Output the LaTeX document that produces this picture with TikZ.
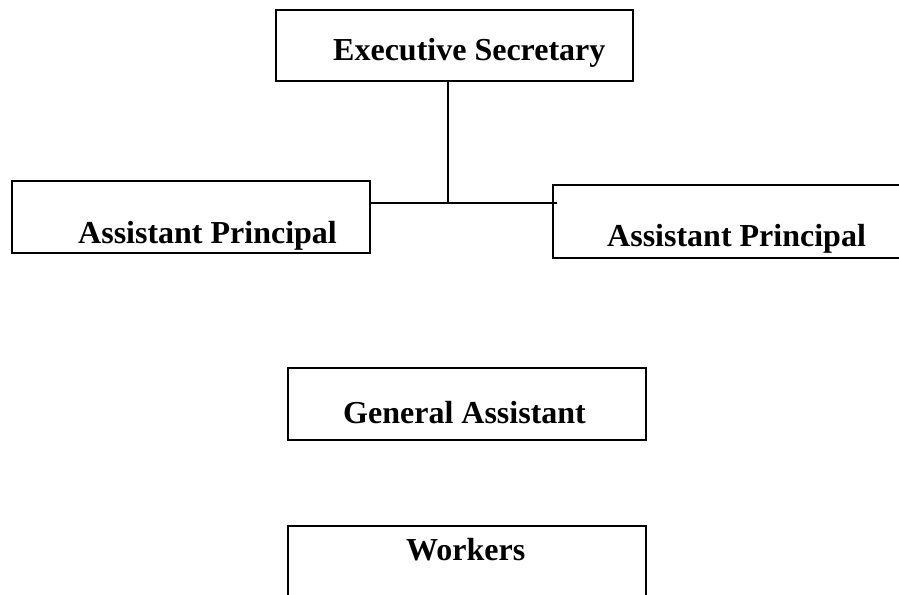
\documentclass[tikz,border=0pt]{standalone}
\usepackage{fontspec}
\setmainfont{Liberation Serif}
\usepackage{tikz}

\begin{document}
\begin{tikzpicture}[x=1pt,y=-1pt,
    box/.style={draw, line width=1.6pt, rectangle, anchor=north west, inner sep=0pt},
    lbl/.style={anchor=base west, inner sep=0pt, font=\fontsize{32}{38}\selectfont\bfseries},
    link/.style={line width=1.3pt}]
   \clip (0,0) rectangle (899,594);
   % boxes
   \node[box, minimum width=357, minimum height=71] (exec) at (275,9) {};
   \node[box, minimum width=358, minimum height=72] (apl) at (11,180) {};
   \node[box, minimum width=380, minimum height=73] (apr) at (552,184) {};
   \node[box, minimum width=358, minimum height=72] (gen) at (287,367) {};
   \node[box, minimum width=358, minimum height=90] (wrk) at (287,525) {};
   % labels
   \node[lbl] (execT) at (333,60) {Executive Secretary};
   \node[lbl] (aplT) at (78,243) {Assistant Principal};
   \node[lbl] (aprT) at (607,246) {Assistant Principal};
   \node[lbl] (genT) at (343,423) {General Assistant};
   \node[lbl] (wrkT) at (406,560) {Workers};
   % connectors
   \coordinate (jn) at (448,203);
   \coordinate (jr) at (557,203);
   \draw[link] (jn |- exec.south) -- (jn);
   \draw[link] (jn -| apl.east) -- (jr);
\end{tikzpicture}
\end{document}
